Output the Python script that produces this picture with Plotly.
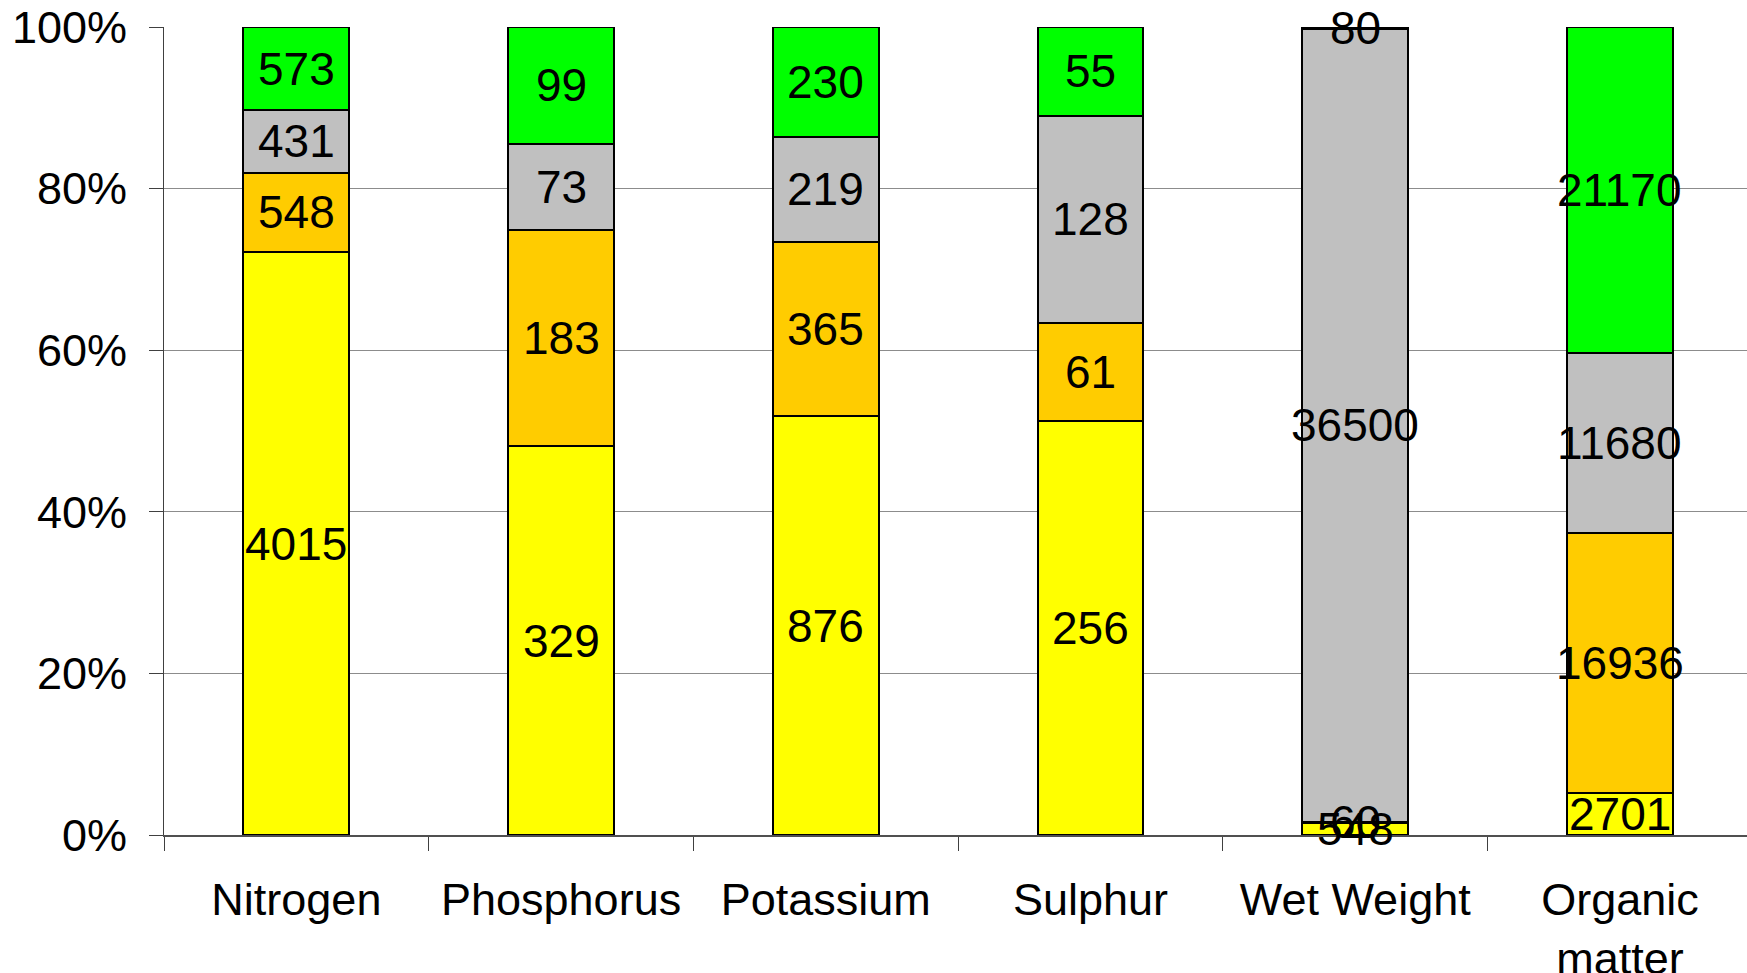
import plotly.graph_objects as go

# Nutrient and mass breakdown per category, in four stacked components
categories = ["Nitrogen", "Phosphorus", "Potassium", "Sulphur", "Wet Weight", "Organic<br>matter"]
series_names = ["Component 1", "Component 2", "Component 3", "Component 4"]
component_1 = [4015, 329, 876, 256, 548, 2701]
component_2 = [548, 183, 365, 61, 60, 16936]
component_3 = [431, 73, 219, 128, 36500, 11680]
component_4 = [573, 99, 230, 55, 80, 21170]
colors = ["#FFFF00", "#FFCC00", "#C0C0C0", "#00FF00"]
y_ticks = [0, 20, 40, 60, 80, 100]
y_tick_labels = ["0%", "20%", "40%", "60%", "80%", "100%"]

series = [component_1, component_2, component_3, component_4]
FONT = "Liberation Sans, Arial, sans-serif"
SIZE = 45

fig = go.Figure()
for name, vals, col in zip(series_names, series, colors):
    fig.add_trace(go.Bar(
        x=categories, y=vals, name=name,
        marker=dict(color=col, line=dict(color="black", width=2)),
        width=0.4, showlegend=False, hoverinfo="skip",
    ))

# value labels at the middle of each normalised segment
totals = [sum(s[i] for s in series) for i in range(len(categories))]
for i, cat in enumerate(categories):
    base = 0.0
    for s in series:
        share = s[i] / totals[i] * 100
        fig.add_annotation(
            x=cat, y=base + share / 2, text=str(s[i]),
            showarrow=False, xanchor="center", yanchor="middle",
            font=dict(family=FONT, size=46, color="black"),
        )
        base += share

fig.update_layout(
    barmode="stack", barnorm="percent",
    width=1747, height=973,
    margin=dict(l=164, r=0, t=27, b=138, autoexpand=False),
    paper_bgcolor="white", plot_bgcolor="white",
    font=dict(family=FONT, size=SIZE, color="black"),
)
fig.update_xaxes(
    type="category", range=[-0.5, 5.48], automargin=False,
    tickson="boundaries", ticks="outside", ticklen=14, tickcolor="#404040", tickwidth=1,
    showline=True, linecolor="#505050", linewidth=2,
    showgrid=False, ticklabelstandoff=24,
    tickfont=dict(family=FONT, size=SIZE, color="black"),
)
fig.update_yaxes(
    range=[0, 100], tickmode="array", tickvals=y_ticks, ticktext=y_tick_labels,
    automargin=False,
    ticks="outside", ticklen=14, tickcolor="#404040", tickwidth=1,
    showline=True, linecolor="#404040", linewidth=1,
    showgrid=True, gridcolor="#8C8C8C", gridwidth=1,
    zeroline=False, ticklabelstandoff=13,
    tickfont=dict(family=FONT, size=SIZE, color="black"),
)

fig.write_html("out.html")
